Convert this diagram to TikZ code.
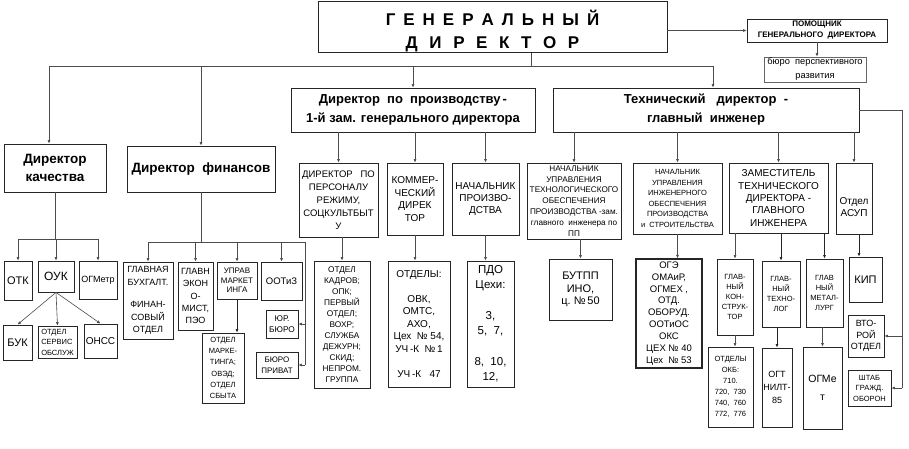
\documentclass[tikz,border=0pt]{standalone}
\usepackage{fontspec}
\setmainfont{Liberation Sans}
\usetikzlibrary{arrows.meta}
\newcommand\fs[2]{\fontsize{#1}{#2}\selectfont}
\newcommand\ga{\hspace{8pt}}
\newcommand\gbb{\hspace{11.6pt}}
\newcommand\bx[7][]{%
  \pgfmathsetmacro\bxw{#5-#3}%
  \pgfmathsetmacro\bxh{#6-#4}%
  \pgfmathsetmacro\bxcx{(#3+#5)/2}%
  \pgfmathsetmacro\bxcy{(#4+#6)/2}%
  \node[box,minimum width=\bxw pt,minimum height=\bxh pt,#1] (#2) at (\bxcx,\bxcy) {#7};%
}
\tikzset{
  box/.style={draw=black!85, line width=0.8pt, fill=white, inner sep=1pt, align=center, font=\fs{8}{10}},
  ln/.style={draw=black!70, line width=0.6pt},
  arr/.style={ln, -{Latex[length=3.5pt,width=3pt]}},
  arrT/.style={draw=black!85, line width=1pt, -{Latex[length=3.5pt,width=3pt]}},
}
\begin{document}
\begin{tikzpicture}[x=1pt,y=-1pt]
\useasboundingbox[fill=white] (0,0) rectangle (909,449);

% level 0/1
\bx[font=\bfseries\fs{17}{23}]{gd}{318}{2}{667}{52}{\rule{0pt}{23pt}Г\ga Е\ga Н\ga Е\ga Р\ga А\ga Л\ga Ь\ga Н\ga Ы\ga Й\\Д\gbb И\gbb Р\gbb Е\gbb К\gbb Т\gbb О\gbb Р}
\bx[font=\bfseries\fs{8}{11}]{pom}{747}{19}{887}{42}{ПОМОЩНИК\\ГЕНЕРАЛЬНОГО\ \ ДИРЕКТОРА}
\bx[font=\fs{9.3}{14}, draw=black!60]{bur}{764}{57}{866}{82}{бюро\ \ перспективного\\развития}
\bx[font=\bfseries\fs{13}{19}]{dp}{291}{88}{535}{132}{Директор\ \ по\ \ производству\,-\\1-й зам. генерального директора}
\bx[font=\bfseries\fs{13}{19}]{td}{553}{88}{859}{132}{Технический\ \ \ директор\ \ -\\главный\ \ инженер}
\bx[font=\bfseries\fs{13.5}{18}]{dq}{4}{144}{106}{192}{Директор\\качества}
\bx[font=\bfseries\fs{13.5}{18}]{df}{127}{146}{275}{192}{Директор\ \ финансов}

% level 2 middle / right
\bx[font=\fs{9.5}{13}]{dpers}{299}{163}{378}{237}{ДИРЕКТОР\ \ \ ПО\\ПЕРСОНАЛУ\\РЕЖИМУ,\\СОЦКУЛЬТБЫТ\\У}
\bx[font=\fs{10}{12.5}]{kom}{387}{163}{443}{235}{КОММЕР-\\ЧЕСКИЙ\\ДИРЕК\\ТОР}
\bx[font=\fs{10}{12}]{nprod}{452}{163}{519}{235}{НАЧАЛЬНИК\\ПРОИЗВО-\\ДСТВА}
\bx[font=\fs{8.2}{10.9}]{nut}{527}{163}{621}{239}{НАЧАЛЬНИК\\УПРАВЛЕНИЯ\\ТЕХНОЛОГИЧЕСКОГО\\ОБЕСПЕЧЕНИЯ\\ПРОИЗВОДСТВА -зам.\\главного\ \ инженера по\\ПП}
\bx[font=\fs{7.5}{10.5}]{nui}{633}{163}{722}{234}{НАЧАЛЬНИК\\УПРАВЛЕНИЯ\\ИНЖЕНЕРНОГО\\ОБЕСПЕЧЕНИЯ\\ПРОИЗВОДСТВА\\и\ \ СТРОИТЕЛЬСТВА}
\bx[font=\fs{10}{12.3}]{zam}{729}{163}{828}{233}{ЗАМЕСТИТЕЛЬ\\ТЕХНИЧЕСКОГО\\ДИРЕКТОРА -\\ГЛАВНОГО\\ИНЖЕНЕРА}
\bx[font=\fs{10}{12}]{asup}{836}{163}{872}{234}{\strut\\[4pt]Отдел\\АСУП}

% quality
\bx[font=\fs{11}{13}]{otk}{4}{261}{32}{300}{ОТК}
\bx[font=\fs{12}{14}]{ouk}{38}{261}{74}{292}{ОУК}
\bx[font=\fs{9}{11}]{ogm}{79}{261}{117}{299}{ОГМетр}
\bx[font=\fs{11}{13}]{buk}{3}{325}{32}{360}{БУК}
\bx[font=\fs{7.5}{10.5},align=left]{oso}{38}{326}{77}{358}{ОТДЕЛ\\СЕРВИС\\ОБСЛУЖ}
\bx[font=\fs{10}{12}]{onss}{84}{324}{117}{358}{ОНСС}

% finance
\bx[font=\fs{9}{12.5}]{gb}{123}{262}{173}{339}{ГЛАВНАЯ\\БУХГАЛТ.\\[10pt]ФИНАН-\\СОВЫЙ\\ОТДЕЛ}
\bx[font=\fs{9}{12.2}]{ge}{178}{262}{213}{330}{ГЛАВН\\ЭКОН\\О-\\МИСТ,\\ПЭО}
\bx[font=\fs{8}{9.5}]{um}{217}{262}{257}{299}{УПРАВ\\МАРКЕТ\\ИНГА}
\bx[font=\fs{9.5}{11}]{ootz}{261}{262}{302}{300}{ООТиЗ}
\bx[font=\fs{8.3}{11}]{yur}{266}{310}{298}{338}{ЮР.\\БЮРО}
\bx[font=\fs{8}{11}]{bpr}{256}{352}{298}{378}{БЮРО\\ПРИВАТ}
\bx[font=\fs{7.5}{11.3}]{om}{202}{333}{244}{403}{ОТДЕЛ\\МАРКЕ-\\ТИНГА;\\ОВЭД;\\ОТДЕЛ\\СБЫТА}

% production
\bx[font=\fs{8.3}{11}]{ok}{314}{261}{370}{388}{ОТДЕЛ\\КАДРОВ;\\ОПК;\\ПЕРВЫЙ\\ОТДЕЛ;\\ВОХР;\\СЛУЖБА\\ДЕЖУРН;\\СКИД;\\НЕПРОМ.\\ГРУППА}
\bx[font=\fs{10}{12.5}]{otd}{388}{261}{450}{387}{ОТДЕЛЫ:\\[12.5pt]ОВК,\\ОМТС,\\АХО,\\Цех\ \ №\ 54,\\УЧ\,-К\ \ №\,1\\[12.5pt]УЧ\,-К\ \ \ 47}
\bx[font=\fs{11.5}{15}]{pdo}{467}{261}{514}{387}{ПДО\\Цехи:\\[16pt]3,\\5,\ \ 7,\\[16pt]8,\ \ 10,\\12,}

% technical
\bx[font=\fs{11}{12.5}]{but}{549}{259}{612}{320}{БУТПП\\ИНО,\\ц.\ №\,50}
\bx[font=\fs{9.5}{11.9},line width=1.4pt]{oge}{636}{259}{702}{368}{ОГЭ\\ОМАиР,\\ОГМЕХ\ ,\\ОТД.\\ОБОРУД.\\ООТиОС\\ОКС\\ЦЕХ\ №\ 40\\Цех\ \ №\ 53}
\bx[font=\fs{7.5}{10.2}]{gk}{717}{259}{753}{335}{ГЛАВ-\\НЫЙ\\КОН-\\СТРУК-\\ТОР}
\bx[font=\fs{7.5}{9.7}]{gt}{762}{261}{800}{327}{ГЛАВ-\\НЫЙ\\ТЕХНО-\\ЛОГ}
\bx[font=\fs{7.5}{9.7}]{gm}{806}{259}{843}{327}{ГЛАВ\\НЫЙ\\МЕТАЛ-\\ЛУРГ}
\bx[font=\fs{11}{13}]{kip}{849}{257}{882}{302}{КИП}
\bx[font=\fs{9}{11.5}]{vto}{848}{315}{884}{357}{ВТО-\\РОЙ\\ОТДЕЛ}
\bx[font=\fs{7.5}{10.5}]{sht}{848}{370}{891}{406}{ШТАБ\\ГРАЖД.\\ОБОРОН}
\bx[font=\fs{7.5}{11}]{okb}{708}{347}{753}{427}{ОТДЕЛЫ\\ОКБ:\\710.\\720,\ \ 730\\740,\ \ 760\\772,\ \ 776}
\bx[font=\fs{9}{13}]{ogt}{762}{348}{792}{427}{ОГТ\\НИЛТ-\\85}
\bx[font=\fs{10.5}{18}]{ogmet}{803}{347}{842}{429}{ОГМе\\т}

% ---------- connectors ----------
\draw[arr] (gd.east |- pom.west) -- (pom.west);
\draw[arr] (pom.south) -- (pom.south |- bur.north);
\coordinate (gb0) at (531,66);
\coordinate (tL) at (49,66);
\coordinate (tR) at (713,66);
\draw[ln] (gd.south -| gb0) -- (gb0);
\draw[ln] (tL) -- (tR);
\draw[arr] (tL) -- (tL |- dq.north);
\draw[arr] (df.north |- tL) -- (df.north);
\draw[arr] (dp.north |- tL) -- (dp.north);
\draw[arr] (tR) -- (tR |- td.north);

\coordinate (rR) at (902,110);
\draw[ln] (td.east) -- (rR) -- (rR |- sht.east);
\draw[arr] (rR |- vto.east) -- (vto.east);
\draw[arr] (rR |- sht.east) -- (sht.east);

\foreach \nn in {dpers,kom,nprod} \draw[arr] (\nn.north |- dp.south) -- (\nn.north);
\foreach \nn in {nut,nui,zam,asup} \draw[arr] (\nn.north |- td.south) -- (\nn.north);

% quality
\coordinate (qb) at (55,239);
\draw[ln] (dq.south) -- (dq.south |- qb);
\draw[ln] (otk.north |- qb) -- (ogm.north |- qb);
\foreach \nn in {otk,ouk,ogm} \draw[arr] (\nn.north |- qb) -- (\nn.north);
\draw[arr] (ouk.south) -- (buk.north);
\draw[arr] (ouk.south) -- (oso.north);
\draw[arr] (ouk.south) -- (onss.north);

% finance
\coordinate (fb) at (201,242);
\coordinate (fR) at (305,242);
\draw[ln] (df.south) -- (df.south |- fb);
\draw[ln] (gb.north |- fb) -- (fR) -- (fR |- bpr.east);
\foreach \nn in {gb,ge,um,ootz} \draw[arr] (\nn.north |- fb) -- (\nn.north);
\draw[arr] (fR |- yur.east) -- (yur.east);
\draw[arr] (fR |- bpr.east) -- (bpr.east);
\draw[arrT] (um.south) -- (um.south |- om.north);

% production / technical children
\draw[arr] (ok.north |- dpers.south) -- (ok.north);
\draw[arr] (kom.south) -- (kom.south |- otd.north);
\draw[arr] (nprod.south) -- (nprod.south |- pdo.north);
\draw[arr] (but.north |- nut.south) -- (but.north);
\draw[arr] (nui.south) -- (nui.south |- oge.north);
\draw[arr] (gk.north |- zam.south) -- (gk.north);
\draw[arrT] (gt.north |- zam.south) -- (gt.north);
\draw[arrT] (gm.north |- zam.south) -- (gm.north);
\coordinate (ak) at ([xshift=5pt]asup.south);
\draw[arrT] (ak) -- (ak |- kip.north);
\draw[arr] (gk.south) -- (gk.south |- okb.north);
\draw[arrT] (ogt.north |- gt.south) -- (ogt.north);
\draw[arr] (ogmet.north |- gm.south) -- (ogmet.north);
\end{tikzpicture}
\end{document}
